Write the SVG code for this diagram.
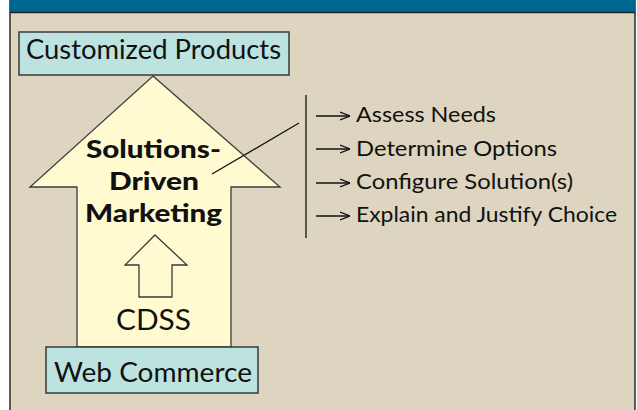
<svg xmlns="http://www.w3.org/2000/svg" width="637" height="410" viewBox="0 0 637 410">
  <style>
    .txt { font-family: Lato, "Open Sans", "Liberation Sans", sans-serif; fill: #111; }
    .bold { font-weight: 900; }
    .box { fill: #bde3e0; stroke: #3a3a3a; stroke-width: 1.5; }
    .arrow { fill: #fffad0; stroke: #3a3a3a; stroke-width: 1.3; }
    .conn { stroke: #111; stroke-width: 1.3; fill: none; }
  </style>
  <defs>
    <marker id="tip" viewBox="0 0 10 10" refX="10" refY="5" markerWidth="10" markerHeight="10" markerUnits="userSpaceOnUse" orient="auto">
      <path d="M0,1 L10,5 L0,9" fill="none" stroke="#111" stroke-width="1.3"/>
    </marker>
  </defs>

  <!-- page background and frame (bottom edge runs off the page) -->
  <rect x="0" y="0" width="637" height="410" fill="#ffffff"/>
  <rect x="10" y="0" width="625" height="430" fill="#ddd5bf" stroke="#2a2a2a" stroke-width="1.5"/>
  <rect x="10" y="0" width="625" height="12" fill="#00668f"/>
  <line x1="10" y1="12.5" x2="635" y2="12.5" stroke="#222" stroke-width="1.5"/>

  <!-- large upward arrow -->
  <g id="main-arrow">
    <path class="arrow" d="M153,76 L280,187 L231,187 L231,347 L77,347 L77,187 L30,187 Z"/>
    <text class="txt bold" x="86" y="158" font-size="24" textLength="135" lengthAdjust="spacingAndGlyphs">Solutions-</text>
    <text class="txt bold" x="109" y="190" font-size="24" textLength="90" lengthAdjust="spacingAndGlyphs">Driven</text>
    <text class="txt bold" x="85" y="222" font-size="24" textLength="137" lengthAdjust="spacingAndGlyphs">Marketing</text>
  </g>

  <!-- small inner arrow with CDSS -->
  <g id="cdss">
    <path class="arrow" d="M155,235 L187,265 L172,265 L172,297 L139,297 L139,265 L125,265 Z"/>
    <text class="txt" x="116" y="330" font-size="28" textLength="75" lengthAdjust="spacingAndGlyphs">CDSS</text>
  </g>

  <g id="customized-products">
    <rect class="box" x="19" y="32" width="270" height="43"/>
    <text class="txt" x="26" y="59" font-size="26" textLength="255" lengthAdjust="spacingAndGlyphs">Customized Products</text>
  </g>

  <g id="web-commerce">
    <rect class="box" x="46" y="347" width="212" height="46"/>
    <text class="txt" x="54" y="382" font-size="27" textLength="198" lengthAdjust="spacingAndGlyphs">Web Commerce</text>
  </g>

  <!-- steps list -->
  <g id="steps">
    <text class="txt" x="356" y="122" font-size="21" textLength="140" lengthAdjust="spacingAndGlyphs">Assess Needs</text>
    <text class="txt" x="356" y="156" font-size="21" textLength="201" lengthAdjust="spacingAndGlyphs">Determine Options</text>
    <text class="txt" x="356" y="189" font-size="21" textLength="217" lengthAdjust="spacingAndGlyphs">Configure Solution(s)</text>
    <text class="txt" x="356" y="222" font-size="21" textLength="261" lengthAdjust="spacingAndGlyphs">Explain and Justify Choice</text>
  </g>

  <g id="connectors">
    <line class="conn" x1="212" y1="174" x2="299" y2="123"/>
    <line class="conn" x1="306" y1="95" x2="306" y2="238"/>
    <line class="conn" x1="316" y1="116" x2="350" y2="116" marker-end="url(#tip)"/>
    <line class="conn" x1="316" y1="149" x2="350" y2="149" marker-end="url(#tip)"/>
    <line class="conn" x1="316" y1="183" x2="350" y2="183" marker-end="url(#tip)"/>
    <line class="conn" x1="316" y1="216" x2="350" y2="216" marker-end="url(#tip)"/>
  </g>
</svg>
